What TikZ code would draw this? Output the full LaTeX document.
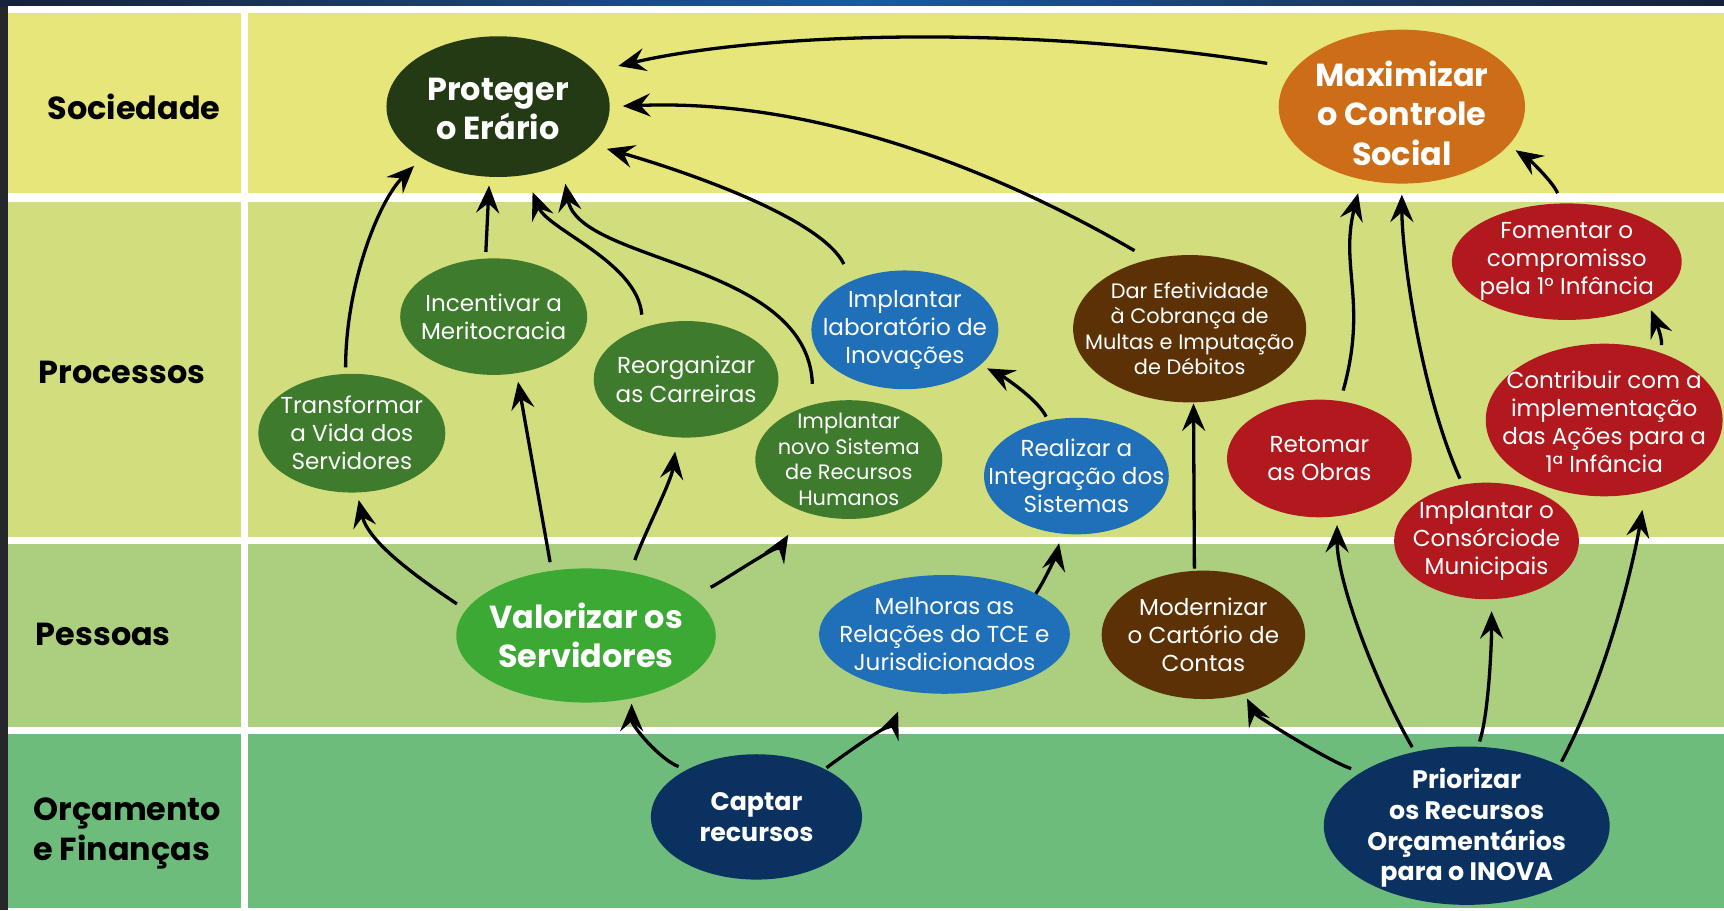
\documentclass[tikz,border=0pt]{standalone}
\usepackage{fontspec}
\setmainfont{Poppins}
\usepackage{tikz}
\usetikzlibrary{backgrounds}
\usetikzlibrary{shapes.geometric}
\usetikzlibrary{arrows.meta}

\definecolor{frame}{HTML}{25272B}
\definecolor{barl}{HTML}{16213A}
\definecolor{barm}{HTML}{1D5A9A}
\definecolor{soc}{HTML}{E7E67B}
\definecolor{proc}{HTML}{D2DE7E}
\definecolor{pess}{HTML}{ABCF7E}
\definecolor{orc}{HTML}{6EBC7C}
\definecolor{erario}{HTML}{233A14}
\definecolor{laranja}{HTML}{CD6D17}
\definecolor{verde}{HTML}{3E7B2D}
\definecolor{verdec}{HTML}{3DA935}
\definecolor{azul}{HTML}{1F70B8}
\definecolor{marrom}{HTML}{5C3105}
\definecolor{vermelho}{HTML}{B1191E}
\definecolor{marinho}{HTML}{0B3160}

\newcommand{\nodetxt}{\fontsize{10.5}{12.75}\selectfont}
\newcommand{\smalltxt}{\fontsize{9.5}{11.6}\selectfont}
\newcommand{\bigtxt}{\fontsize{14.5}{17.8}\selectfont\bfseries}
\newcommand{\midtxt}{\fontsize{11.5}{14}\selectfont\bfseries}
\newcommand{\rowtxt}{\fontsize{14.5}{18}\selectfont\bfseries}

\tikzset{
  obj/.style n args={3}{ellipse, fill=#1, minimum width=#2pt,
    minimum height=#3pt, inner sep=0pt, outer sep=0pt},
  txt/.style={text=white, align=center, font=\nodetxt, inner sep=0pt},
  row/.style={font=\rowtxt, text=black, inner sep=0pt},
  arr/.style={-{Stealth[length=12.5pt,width=10.5pt,inset=4.5pt]},
    line width=1.5pt},
}

\begin{document}
\begin{tikzpicture}[x=0.5pt,y=0.5pt]
  \useasboundingbox (0,0) rectangle (1568,828);

  % row titles
  \node (soc) at (122,731) [row] {Sociedade};
  \node (prc) at (111,489) [row] {Processos};
  \node (pes) at (94,251) [row] {Pessoas};
  \node (orc) at (30,70) [row, anchor=west, align=left] {Orçamento\\e Finanças};

  % objectives
  \node (prot) at (453,731) [obj={erario}{101.5}{64},
    label={[txt,font=\bigtxt,yshift=-1pt]center:{Proteger\\o Erário}}] {};
  \node (maxi) at (1275,731) [obj={laranja}{112}{70},
    label={[txt,font=\bigtxt,yshift=-3pt]center:{Maximizar\\o Controle\\Social}}] {};

  \node (incen) at (449,540) [obj={verde}{85}{53},
    label={[txt]center:{Incentivar a\\Meritocracia}}] {};
  \node (transf) at (320,434) [obj={verde}{85}{54},
    label={[txt]center:{Transformar\\a Vida dos\\Servidores}}] {};
  \node (reorg) at (624,483) [obj={verde}{84}{53},
    label={[txt]center:{Reorganizar\\as Carreiras}}] {};
  \node (sisrh) at (772,410) [obj={verde}{85}{54},
    label={[txt,font=\smalltxt]center:{Implantar\\novo Sistema\\de Recursos\\Humanos}}] {};
  \node (lab) at (823,528) [obj={azul}{85}{54},
    label={[txt]center:{Implantar\\laboratório de\\Inovações}}] {};
  \node (integ) at (979,395) [obj={azul}{84}{53},
    label={[txt]center:{Realizar a\\Integração dos\\Sistemas}}] {};
  \node (efet) at (1082,529) [obj={marrom}{106}{67},
    label={[txt,font=\smalltxt]center:{Dar Efetividade\\à Cobrança de\\Multas e Imputação\\de Débitos}}] {};
  \node (obras) at (1200,411) [obj={vermelho}{84}{53.5},
    label={[txt]center:{Retomar\\as Obras}}] {};
  \node (fomen) at (1425,590) [obj={vermelho}{104.5}{53},
    label={[txt]center:{Fomentar o\\compromisso\\pela 1° Infância}}] {};
  \node (contrib) at (1459,446) [obj={vermelho}{107.7}{69.4},
    label={[txt,yshift=-1pt]center:{Contribuir com a\\implementação\\das Ações para a\\1ª Infância}}] {};
  \node (consor) at (1352,336) [obj={vermelho}{84}{53},
    label={[txt]center:{Implantar o\\Consórciode\\Municipais}}] {};

  \node (valor) at (533,250) [obj={verdec}{118}{61},
    label={[txt,font=\bigtxt]center:{Valorizar os\\Servidores}}] {};
  \node (melh) at (859,251) [obj={azul}{114}{54},
    label={[txt]center:{Melhoras as\\Relações do TCE e\\Jurisdicionados}}] {};
  \node (modern) at (1094.5,250.6) [obj={marrom}{92.5}{58.4},
    label={[txt]center:{Modernizar\\o Cartório de\\Contas}}] {};

  \node (captar) at (688,85) [obj={marinho}{96}{57},
    label={[txt,font=\midtxt]center:{Captar\\recursos}}] {};
  \node (prior) at (1334,77) [obj={marinho}{130}{72},
    label={[txt,font=\midtxt,yshift=-1pt]center:{Priorizar\\os Recursos\\Orçamentários\\para o INOVA}}] {};

  % links into the top row
  \draw[arr, shorten <=13pt, shorten >=11pt] (maxi.160)
    .. controls +(-250,40) and +(150,35) .. (prot.20);
  \draw[arr, shorten <=8pt, shorten >=6pt] (efet.120)
    .. controls +(-120,70) and +(200,8) .. (prot.0);
  \draw[arr, shorten <=8.5pt, shorten >=7pt] (lab.137)
    .. controls +(-30,60) and +(70,-20) .. (prot.-22);
  \draw[arr, shorten <=9.5pt, shorten >=9pt] (sisrh.123)
    .. controls +(-5,130) and +(15,-90) .. (prot.-42);
  \draw[arr, shorten <=6pt, shorten >=8.5pt] (reorg.130)
    .. controls +(-5,60) and +(20,-50) .. (prot.-68);
  \draw[arr, shorten <=3pt, shorten >=4pt] (incen.98) -- (prot.-97);
  \draw[arr, shorten <=3pt, shorten >=5pt] (transf.96)
    .. controls +(0,80) and +(-40,-40) .. (prot.214);

  \draw[arr, shorten <=5pt, shorten >=6.5pt] (obras.70)
    .. controls +(25,90) and +(-20,-80) .. (maxi.-119);
  \draw[arr, shorten <=3pt, shorten >=5pt] (consor.113)
    .. controls +(-40,90) and +(0,-60) .. (maxi.-90);
  \draw[arr, shorten <=5pt, shorten >=4pt] (fomen.95)
    .. controls +(-8,20) and +(18,-12) .. (maxi.-20);
  \draw[arr, shorten <=3.5pt, shorten >=3.5pt] (contrib.50)
    .. controls +(2,15) and +(5,-12) .. (fomen.-27);

  % processes fed by people
  \draw[arr, shorten <=5pt, shorten >=3.5pt] (valor.168)
    .. controls +(-45,30) and +(10,-45) .. (transf.-85);
  \draw[arr, shorten <=4pt, shorten >=4pt] (valor.118) -- (incen.-68);
  \draw[arr, shorten <=6pt, shorten >=6.5pt] (valor.55)
    .. controls +(15,40) and +(-5,-40) .. (reorg.-99);
  \draw[arr, shorten <=10pt, shorten >=12.5pt] (valor.21)
    .. controls +(25,10) and +(-15,-25) .. (sisrh.-132);
  \draw[arr, shorten <=0pt, shorten >=4.5pt] (melh.24)
    .. controls +(10,15) and +(-3,-15) .. (integ.-105);
  \draw[arr, shorten <=2pt, shorten >=3.5pt] (integ.117)
    .. controls +(-10,20) and +(20,-10) .. (lab.-25);
  \draw[arr, shorten <=1pt, shorten >=0.5pt] (modern.98) -- (efet.-87);

  % budget
  \draw[arr, shorten <=4pt, shorten >=2.5pt] (captar.146)
    .. controls +(-25,10) and +(0,-25) .. (valor.-54);
  \draw[arr, shorten <=1pt, shorten >=10pt] (captar.35)
    .. controls +(20,15) and +(-10,-25) .. (melh.-124);
  \draw[arr, shorten <=5pt, shorten >=2.5pt] (prior.153)
    .. controls +(-30,10) and +(10,-20) .. (modern.-55);
  \draw[arr, shorten <=2.5pt, shorten >=4pt] (prior.125)
    .. controls +(-35,60) and +(0,-60) .. (obras.-73);
  \draw[arr, shorten <=2.5pt, shorten >=5.5pt] (prior.82)
    .. controls +(10,30) and +(0,-40) .. (consor.-85);
  \draw[arr, shorten <=2pt, shorten >=8.5pt] (prior.33)
    .. controls +(45,85) and +(-10,-60) .. (contrib.-60);

  \begin{scope}[on background layer]
    \fill[frame] (0,0) rectangle (1568,828);
    \shade[left color=barl, right color=barl, middle color=barm]
      (0,822.5) rectangle (1568,828);
    \fill[white] (7,0) rectangle (1568,822.5);

    \fill[soc] (7,652.5) rectangle (219,816);
    \fill[soc] (226,652.5) rectangle (1568,816);
    \fill[proc] (7,340) rectangle (219,644);
    \fill[proc] (226,340) rectangle (1568,644);
    \fill[pess] (7,167) rectangle (219,333);
    \fill[pess] (226,167) rectangle (1568,333);
    \fill[orc] (7,2) rectangle (219,160);
    \fill[orc] (226,2) rectangle (1568,160);
  \end{scope}
\end{tikzpicture}
\end{document}
